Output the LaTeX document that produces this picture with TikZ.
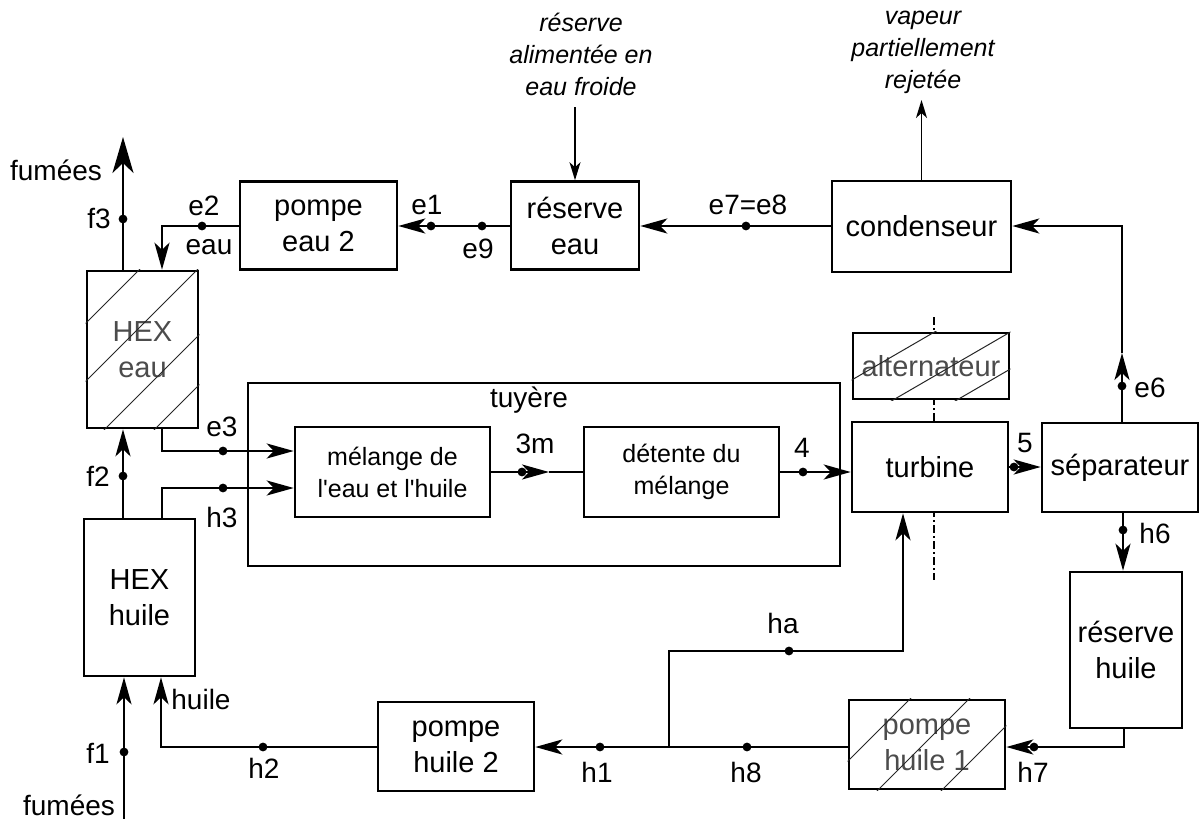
\documentclass[tikz,border=0pt]{standalone}
\usepackage{fontspec}
\setmainfont{Liberation Sans}[Ligatures=TeXOff]
\usetikzlibrary{arrows.meta}
\begin{document}
\begin{tikzpicture}[x=1pt,y=-1pt,
  boxst/.style={draw, line width=2.6pt, fill=white, inner sep=0pt, align=center, font=\fontsize{29}{36}\selectfont},
  smallbox/.style={boxst, font=\fontsize{25}{32}\selectfont},
  greytext/.style={text=black!70},
  flowline/.style={line width=2.5pt, -{Stealth[length=27pt,width=15pt,inset=7pt]}},
  bigflow/.style={line width=2.5pt, -{Stealth[length=36pt,width=21pt,inset=10pt]}},
  plainline/.style={line width=2.5pt},
  thinflow/.style={line width=1.3pt, -{Stealth[length=18pt,width=11pt,inset=5pt]}},
  hatchline/.style={line width=1pt, black!85},
  axisline/.style={line width=1.6pt, dash pattern=on 8pt off 3pt on 2pt off 3pt},
  lbl/.style={inner sep=0pt, font=\fontsize{28}{34}\selectfont},
  note/.style={inner sep=0pt, align=center, font=\fontsize{25}{32}\selectfont\itshape},
]
\useasboundingbox (0,0) rectangle (1200,819);

% axis of the turbine / alternator
\coordinate (axtop) at (934,317);
\coordinate (axbot) at (934,580);
\draw[axisline] (axtop) -- (axbot);

% boxes
\node[boxst, minimum width=592pt, minimum height=183pt] (tuyere) at (544,474.5) {};
\node[boxst, greytext, minimum width=111pt, minimum height=157pt] (hexeau) at (142.5,349.5) {HEX\\eau};
\node[boxst, minimum width=111pt, minimum height=157pt] (hexhuile) at (139.5,597.5) {HEX\\huile};
\node[boxst, minimum width=157pt, minimum height=88pt] (pompeeau2) at (318.5,225.5) {pompe\\eau 2};
\node[boxst, minimum width=128pt, minimum height=88pt] (reserveeau) at (575,225.5) {réserve\\eau};
\node[boxst, minimum width=179pt, minimum height=91pt] (condenseur) at (921.5,226.5) {condenseur};
\node[smallbox, minimum width=195pt, minimum height=90pt] (melange) at (392.5,472) {mélange de\\l'eau et l'huile};
\node[smallbox, minimum width=195pt, minimum height=90pt] (detente) at (681.5,472) {détente du\\mélange};
\node[boxst, minimum width=156pt, minimum height=90pt] (turbine) at (930,467) {turbine};
\node[boxst, greytext, minimum width=156pt, minimum height=66pt] (alternateur) at (931,366) {alternateur};
\node[boxst, minimum width=156pt, minimum height=89pt] (separateur) at (1120,467.5) {séparateur};
\node[boxst, minimum width=112pt, minimum height=156pt] (reservehuile) at (1126,650) {réserve\\huile};
\node[boxst, greytext, minimum width=156pt, minimum height=89pt] (pompehuile1) at (927,744.5) {pompe\\huile 1};
\node[boxst, minimum width=156pt, minimum height=89pt] (pompehuile2) at (456,746.5) {pompe\\huile 2};

% hatching
\begin{scope}
  \clip (hexeau.south west) rectangle (hexeau.north east);
  \foreach \c in {409,467,534,584} \draw[hatchline] (\c-450,450) -- (\c-250,250);
\end{scope}
\begin{scope}
  \clip (alternateur.south west) rectangle (alternateur.north east);
  \foreach \c in {874,918,955} \draw[hatchline] (840,\c-487.2) -- (1020,\c-591.6);
\end{scope}
\begin{scope}
  \clip (pompehuile1.south west) rectangle (pompehuile1.north east);
  \foreach \c in {1609,1668,1732} \draw[hatchline] (\c-800,800) -- (\c-690,690);
\end{scope}

% point coordinates
\coordinate (f3tip) at (123,137);
\coordinate (f3) at (123,219);
\coordinate (e2) at (202,226);
\coordinate (e1) at (431,226);
\coordinate (e9) at (482,226);
\coordinate (e78) at (746,226);
\coordinate (e6) at (1122,386);
\coordinate (e6tip) at (1122,353);
\coordinate (resin) at (575,107);
\coordinate (vap) at (921.5,100);
\coordinate (f2) at (123,476);
\coordinate (e3) at (223,451);
\coordinate (h3) at (223,488);
\coordinate (p3m) at (522,472);
\coordinate (tip3m) at (549,472);
\coordinate (p4) at (803,472);
\coordinate (p5) at (1014,467);
\coordinate (h6) at (1123,530);
\coordinate (h7) at (1034,747);
\coordinate (h8) at (747,747);
\coordinate (h1) at (600,747);
\coordinate (jct) at (669,747);
\coordinate (ha) at (789,651);
\coordinate (h2) at (263,747);
\coordinate (f1start) at (124,819);
\coordinate (f1) at (124,752);

% connectors
\draw[bigflow] ([xshift=-19.5pt]hexeau.north) -- (f3tip);
\draw[flowline] (pompeeau2.west |- e2) -- (e2) -| ([xshift=19.5pt]hexeau.north);
\draw[flowline] (reserveeau.west |- e9) -- (pompeeau2.east |- e9);
\draw[flowline] (condenseur.west |- e78) -- (reserveeau.east |- e78);
\draw[flowline] (separateur.north -| e6) -- (e6tip);
\draw[flowline] (e6tip) |- (condenseur.east |- e78);
\draw[thinflow] (resin) -- (reserveeau.north);
\draw[thinflow] (condenseur.north) -- (vap);

\draw[flowline] ([xshift=-16.5pt]hexhuile.north) -- (hexeau.south -| f2);
\draw[flowline] ([xshift=19.5pt]hexeau.south) |- (melange.west |- e3);
\draw[flowline] ([xshift=22.5pt]hexhuile.north) |- (melange.west |- h3);
\draw[flowline] (melange.east) -- (tip3m);
\draw[plainline] (tip3m) -- (detente.west);
\draw[flowline] (detente.east) -- (detente.east -| turbine.west);
\draw[flowline] (turbine.east) -- (separateur.west |- turbine.east);
\draw[flowline] (separateur.south -| h6) -- (reservehuile.north -| h6);

\draw[flowline] ([xshift=-2pt]reservehuile.south) |- (pompehuile1.east |- h7);
\draw[flowline] (pompehuile1.west |- h8) -- (pompehuile2.east |- h8);
\draw[flowline] (jct) |- (ha) -| ([xshift=-27pt]turbine.south);
\draw[flowline] (pompehuile2.west |- h2) -| ([xshift=21.5pt]hexhuile.south);
\draw[flowline] (f1start) -- (hexhuile.south -| f1);

% dots
\foreach \p in {f3,e2,e1,e9,e78,e3,h3,f2,p3m,p4,p5,e6,h6,h7,h8,h1,ha,h2,f1}
  \fill (\p) circle[radius=4.4];

% labels
\node[lbl] (lfum3) at (56,170) {fumées};
\node[lbl] (lf3) at (99,219) {f3};
\node[lbl] (le2) at (204,206) {e2};
\node[lbl] (leau) at (209,247) {eau};
\node[lbl] (le1) at (427,205) {e1};
\node[lbl] (le9) at (478,249) {e9};
\node[lbl] (le78) at (748,205) {e7=e8};
\node[lbl] (le3) at (222,427) {e3};
\node[lbl] (lf2) at (98,476) {f2};
\node[lbl] (lh3) at (222,517) {h3};
\node[lbl] (ltuy) at (529,400) {tuyère};
\node[lbl] (l3m) at (535,444) {3m};
\node[lbl] (l4) at (802,448) {4};
\node[lbl] (l5) at (1025,443) {5};
\node[lbl] (le6) at (1150,388) {e6};
\node[lbl] (lh6) at (1155,533) {h6};
\node[lbl] (lha) at (783,623) {ha};
\node[lbl] (lh8) at (746,772) {h8};
\node[lbl] (lh7) at (1033,772) {h7};
\node[lbl] (lh1) at (597,772) {h1};
\node[lbl] (lh2) at (264,768) {h2};
\node[lbl] (lf1) at (98,753) {f1};
\node[lbl] (lfum1) at (69,805) {fumées};
\node[lbl] (lhuile) at (201,699) {huile};
\node[note] (nres) at (581,54) {réserve\\alimentée en\\eau froide};
\node[note] (nvap) at (923,52) {vapeur\\partiellement\\rejetée};
\end{tikzpicture}
\end{document}
